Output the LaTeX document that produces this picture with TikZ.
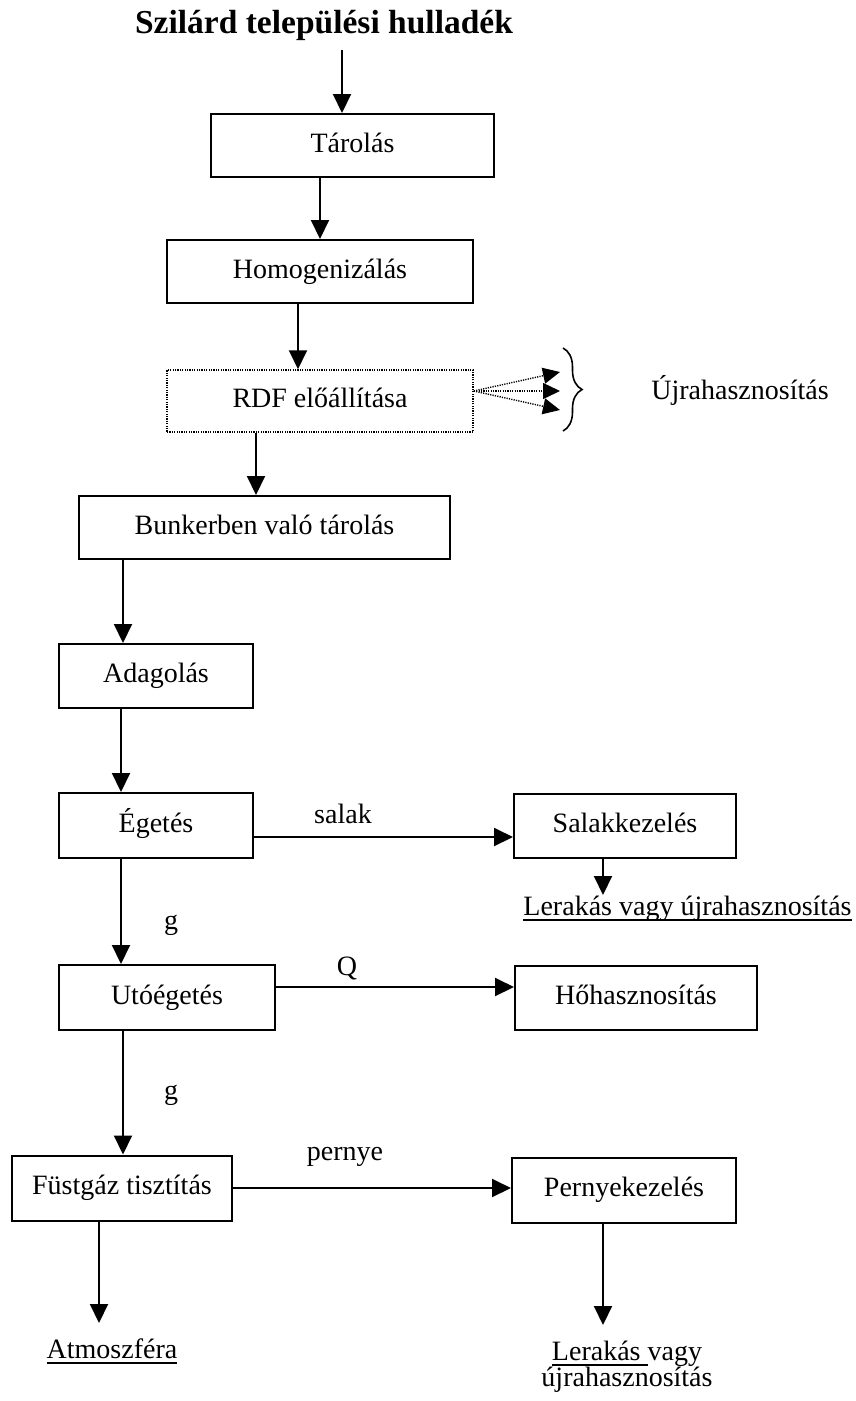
\documentclass[tikz,border=0pt]{standalone}
\usepackage{fontspec}
\setmainfont{Liberation Serif}
\usetikzlibrary{arrows.meta,decorations.pathreplacing}
\newsavebox\ulbox
\newcommand\myul[1]{\sbox\ulbox{#1}\rlap{\rule[-5.5pt]{\wd\ulbox}{1.5pt}}\usebox\ulbox}
\begin{document}
\begin{tikzpicture}[x=1pt,y=-1pt,
  box/.style={draw,line width=2pt,inner sep=0pt,font=\fontsize{28}{30}\selectfont,
    text height=19pt,text depth=6pt,anchor=center},
  dotbox/.style={box,line width=1.5pt,dash pattern=on 1.2pt off 1.2pt},
  arr/.style={line width=2pt,-{Triangle[length=19pt,width=18pt]}},
  dotarr/.style={line width=1.4pt,dash pattern=on 1.2pt off 1.2pt,-{Triangle[length=17pt,width=16pt]}},
  lbl/.style={font=\fontsize{28}{30}\selectfont,inner sep=0pt,anchor=base},
  ttl/.style={font=\bfseries\fontsize{33.5}{36}\selectfont,inner sep=0pt,anchor=base}]
\useasboundingbox (0,0) rectangle (856,1401);
% title
\node[ttl] (title) at (324,33) {Szilárd települési hulladék};
% boxes
\node[box,minimum width=283pt,minimum height=63pt] (tar) at (352.5,145.5) {Tárolás};
\node[box,minimum width=306pt,minimum height=63pt] (hom) at (320,271.5) {Homogenizálás};
\node[dotbox,minimum width=306pt,minimum height=62pt] (rdf) at (320,401) {RDF előállítása};
\node[box,minimum width=371pt,minimum height=63pt] (bun) at (264.5,527.5) {Bunkerben való tárolás};
\node[box,minimum width=194pt,minimum height=64pt] (ada) at (156,676) {Adagolás};
\node[box,minimum width=194pt,minimum height=65pt] (ege) at (156,825.5) {Égetés};
\node[box,minimum width=222pt,minimum height=64pt] (sal) at (625,826) {Salakkezelés};
\node[box,minimum width=216pt,minimum height=65pt] (uto) at (167,997.5) {Utóégetés};
\node[box,minimum width=242pt,minimum height=64pt] (hoh) at (636,998) {Hőhasznosítás};
\node[box,minimum width=220pt,minimum height=65pt] (fus) at (122,1188) {Füstgáz tisztítás};
\node[box,minimum width=224pt,minimum height=65pt] (per) at (624,1190) {Pernyekezelés};
% labels
\node[lbl] (ujra) at (740,399) {Újrahasznosítás};
\node[lbl] (lsal) at (343,823) {salak};
\node[lbl] (lq) at (347,975) {Q};
\node[lbl] (g1) at (171,929) {g};
\node[lbl] (g2) at (171,1099) {g};
\node[lbl] (lper) at (345,1160) {pernye};
\node[lbl] (lv) at (687.5,915) {\myul{Lerakás vagy újrahasznosítás}};
\node[lbl] (atm) at (112,1358) {\myul{Atmoszféra}};
\node[font=\fontsize{28}{26}\selectfont,inner sep=0pt,align=center,anchor=north] (ler) at (627,1340.5) {\myul{Lerakás }vagy\\újrahasznosítás};
% coordinates
\coordinate (t0) at (342,50);
\coordinate (c3) at (298,0);
\coordinate (c4) at (256,0);
\coordinate (c5) at (123,0);
\coordinate (c6) at (121,0);
\coordinate (c8) at (123,0);
\coordinate (c9) at (99,1323);
\coordinate (c10) at (603,1325);
\coordinate (c11) at (603,895);
\coordinate (ys) at (0,837);
\coordinate (yq) at (0,987);
\coordinate (yp) at (0,1188);
\coordinate (dsrc) at (473,391);
\coordinate (d1) at (560,372);
\coordinate (d2) at (560,391);
\coordinate (d3) at (560,410);
\coordinate (brt) at (563,348);
\coordinate (brb) at (563,431);
% vertical arrows
\draw[arr] (t0) -- (t0 |- tar.north);
\draw[arr] (hom.north |- tar.south) -- (hom.north);
\draw[arr] (c3 |- hom.south) -- (c3 |- rdf.north);
\draw[arr] (c4 |- rdf.south) -- (c4 |- bun.north);
\draw[arr] (c5 |- bun.south) -- (c5 |- ada.north);
\draw[arr] (c6 |- ada.south) -- (c6 |- ege.north);
\draw[arr] (c6 |- ege.south) -- (c6 |- uto.north);
\draw[arr] (c8 |- uto.south) -- (c8 |- fus.north);
\draw[arr] (c9 |- fus.south) -- (c9);
\draw[arr] (c10 |- per.south) -- (c10);
\draw[arr] (c11 |- sal.south) -- (c11);
% horizontal arrows
\draw[arr] (ys -| ege.east) -- (ys -| sal.west);
\draw[arr] (yq -| uto.east) -- (yq -| hoh.west);
\draw[arr] (yp -| fus.east) -- (yp -| per.west);
% dotted arrows and brace
\draw[dotarr] (dsrc -| rdf.east) -- (d1);
\draw[dotarr] (dsrc -| rdf.east) -- (d2);
\draw[dotarr] (dsrc -| rdf.east) -- (d3);
\draw[line width=1.6pt,decorate,decoration={brace,amplitude=19pt}] (brt) -- (brb);
\end{tikzpicture}
\end{document}
